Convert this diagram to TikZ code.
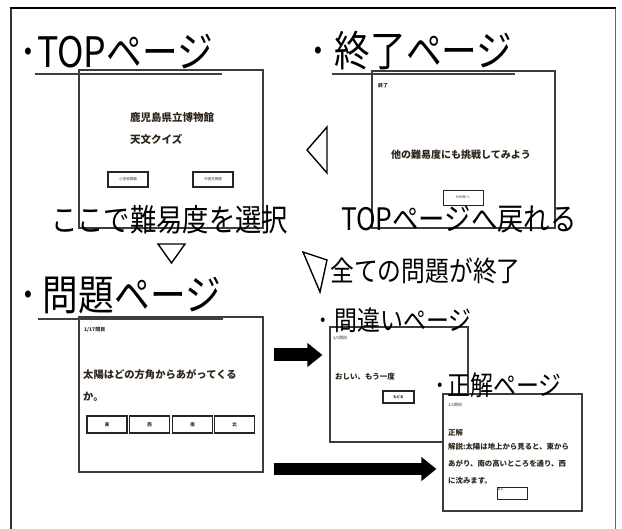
\documentclass[tikz,border=0pt]{standalone}
\usepackage{fontspec}
\usepackage{graphicx}
\setmainfont{Noto Sans CJK JP}
\usetikzlibrary{arrows.meta}
\newcommand\myfs[1]{\fontsize{#1}{#1}\selectfont}
\newcommand\cnd[1]{\scalebox{0.85}[1]{#1}}
\definecolor{ln}{HTML}{3C3C3C}
\definecolor{ink}{HTML}{2E261C}
\begin{document}
\begin{tikzpicture}[x=1pt,y=-1pt,
  pagebox/.style={draw=ln, line width=1.1pt, fill=white, inner sep=0, anchor=center},
  ttl/.style={anchor=west, inner sep=0},
  txt/.style={anchor=west, inner sep=0, text=ink},
  btn/.style={draw=black!85, line width=1.1pt, fill=white, inner sep=0, anchor=center, text=ink},
  uline/.style={draw=black!75, line width=2pt},
  tri/.style={draw=black, line width=1.4pt, line join=miter, fill=white},
  bigarrow/.style={line width=#1, -{Triangle[length=15pt,width=23pt]}},
]
\useasboundingbox (0,0) rectangle (622,529);
\fill[white] (0,0) rectangle (622,529);
% outer frame
\draw[line width=1.5pt, black!80] (11,529) -- (11,8);
\draw[line width=0.8pt, black!60] (615,8) -- (615,529);
\draw[line width=2.6pt, black] (10,8) -- (616,8);

% page boxes
\node[pagebox, minimum width=184, minimum height=158] (toppg) at (171,149) {};
\node[pagebox, minimum width=183, minimum height=157] (endpg) at (463.5,149.5) {};
\node[pagebox, minimum width=184, minimum height=155] (qpg) at (171,394.5) {};
\node[pagebox, minimum width=138, minimum height=115] (ngpg) at (399,384.5) {};

% TOP page content
\node[txt, font=\bfseries\myfs{10.5}] (t1) at (130,118) {鹿児島県立博物館};
\node[txt, font=\bfseries\myfs{10.5}] (t2) at (130,139) {天文クイズ};
\node[btn, minimum width=40, minimum height=15, font=\myfs{3.5}] (tb1) at (128,179.5) {小学校問題};
\node[btn, minimum width=40, minimum height=15, font=\myfs{3.5}] (tb2) at (213,179.5) {中高生問題};

% end page content
\node[txt, font=\bfseries\myfs{5}] (e0) at (378,86) {終了};
\node[txt, font=\bfseries\myfs{10}] (e1) at (391,155) {他の難易度にも挑戦してみよう};
\node[btn, minimum width=40, minimum height=15, line width=0.8pt, font=\myfs{3.5}] (eb) at (463,197.5) {HOMEへ};

% question page content
\node[txt, font=\bfseries\myfs{5}] (q0) at (84,330) {1/17問目};
\node[txt, font=\bfseries\myfs{10.3}] (q1) at (83,375) {太陽はどの方角からあがってくる};
\node[txt, font=\bfseries\myfs{10.3}] (q2) at (83,397) {か。};
\node[btn, minimum width=40, minimum height=17, font=\bfseries\myfs{4.5}] (qb1) at (107,424.5) {東};
\node[btn, minimum width=40, minimum height=17, font=\bfseries\myfs{4.5}] (qb2) at (149.5,424.5) {西};
\node[btn, minimum width=40, minimum height=17, font=\bfseries\myfs{4.5}] (qb3) at (192.5,424.5) {南};
\node[btn, minimum width=40, minimum height=17, font=\bfseries\myfs{4.5}] (qb4) at (234.5,424.5) {北};

% wrong page content
\node[txt, font=\myfs{4}] (w0) at (333,338) {1/1問目};
\node[txt, font=\bfseries\myfs{7.5}] (w1) at (335,377) {おしい、もう一度};
\node[btn, minimum width=31, minimum height=12, font=\bfseries\myfs{3.5}] (wb) at (398.5,397) {もどる};

% correct page (on top)
\node[pagebox, minimum width=139, minimum height=117] (okpg) at (512.5,452.5) {};
\node[txt, font=\myfs{4}] (c0) at (448,405) {1/1問目};
\node[txt, font=\bfseries\myfs{7.4}] (c1) at (448,433) {正解};
\node[txt, font=\bfseries\myfs{7.4}] (c2) at (448,447) {解説:太陽は地上から見ると、東から};
\node[txt, font=\bfseries\myfs{7.4}] (c3) at (448,464) {あがり、南の高いところを通り、西};
\node[txt, font=\bfseries\myfs{7.4}] (c4) at (448,481) {に沈みます。};
\node[btn, minimum width=30, minimum height=12, line width=0.9pt] (cb) at (512,493.5) {};
\node[anchor=north west, inner sep=0.5pt, font=\myfs{3}, text=ink] (cbl) at (cb.north west) {戻る};

% titles
\node[ttl, fill=white, font=\myfs{42}] (ttop) at (19,52) {\cnd{･TOPページ}};
\node[ttl, fill=white, font=\myfs{42}] (tend) at (309,51) {\cnd{･\kern9pt 終了ページ}};
\node[ttl, fill=white, font=\myfs{42}] (tq) at (19,295) {\cnd{･\kern7pt 問題ページ}};
\node[ttl, font=\myfs{27}] (tng) at (317,320) {\cnd{･\kern7pt 間違いページ}};
\node[ttl, font=\myfs{27}] (tok) at (434,385) {\cnd{･\kern2pt 正解ページ}};
\draw[uline] (35,74) -- (222,74);
\draw[uline] (332,74) -- (515,74);
\draw[uline] (38,319) -- (223,319);

% captions
\node[ttl, font=\myfs{31}] (cap1) at (51,220) {\cnd{ここで難易度を選択}};
\node[ttl, font=\myfs{31}] (cap2) at (341,219) {\cnd{TOPページへ戻れる}};
\node[ttl, font=\myfs{28}] (cap3) at (330,271) {\cnd{全ての問題が終了}};

% triangles
\draw[tri] (158,244) -- (185,244) -- (171.5,263) -- cycle;
\draw[tri] (327,127) -- (327,173) -- (307,150) -- cycle;
\draw[tri] (303,252) -- (327,260) -- (320,292) -- cycle;

% arrows
\coordinate (a1s) at ([xshift=10pt]qpg.east |- 0,355);
\coordinate (a1e) at ([xshift=-7pt]ngpg.west |- 0,355);
\coordinate (a2s) at ([xshift=10pt]qpg.east |- 0,469);
\coordinate (a2e) at ([xshift=-6pt]okpg.west |- 0,469);
\draw[bigarrow=13pt] (a1s) -- (a1e);
\draw[bigarrow=12pt] (a2s) -- (a2e);
\end{tikzpicture}
\end{document}
